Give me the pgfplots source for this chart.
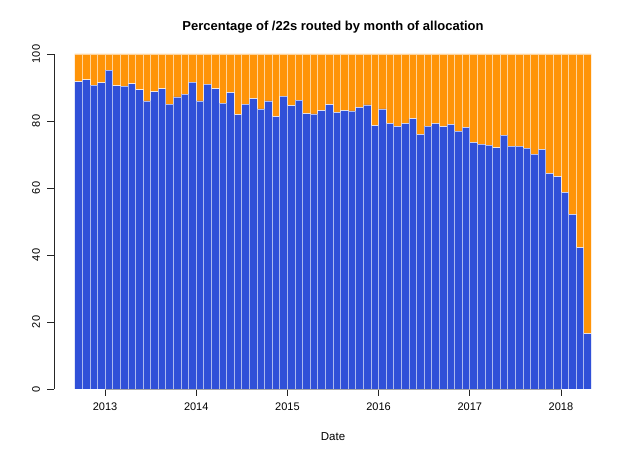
\documentclass[border=0pt]{standalone}
\usepackage{fontspec}
\setmainfont{Liberation Sans}
\usepackage{pgfplots}
\usepackage{pgfplotstable}
\pgfplotsset{compat=1.18}
\definecolor{barBlue}{RGB}{48,80,216}
\definecolor{barOrange}{RGB}{255,148,8}

% month index: 0 = Sep 2012, bar i spans [i, i+1]
\pgfplotstableread{
x    blue orange
0.5  91.7 8.3
1.5  92.3 7.7
2.5  90.7 9.3
3.5  91.4 8.6
4.5  95.2 4.8
5.5  90.5 9.5
6.5  90.4 9.6
7.5  91.1 8.9
8.5  89.3 10.7
9.5  86.0 14.0
10.5 88.7 11.3
11.5 89.6 10.4
12.5 85.0 15.0
13.5 87.2 12.8
14.5 88.0 12.0
15.5 91.6 8.4
16.5 86.0 14.0
17.5 91.0 9.0
18.5 89.6 10.4
19.5 85.3 14.7
20.5 88.5 11.5
21.5 81.9 18.1
22.5 85.0 15.0
23.5 86.7 13.3
24.5 83.6 16.4
25.5 86.0 14.0
26.5 81.3 18.7
27.5 87.4 12.6
28.5 84.6 15.4
29.5 86.2 13.8
30.5 82.2 17.8
31.5 82.1 17.9
32.5 83.1 16.9
33.5 84.9 15.1
34.5 82.6 17.4
35.5 83.1 16.9
36.5 83.0 17.0
37.5 84.1 15.9
38.5 84.8 15.2
39.5 78.6 21.4
40.5 83.6 16.4
41.5 79.3 20.7
42.5 78.4 21.6
43.5 79.3 20.7
44.5 80.7 19.3
45.5 76.0 24.0
46.5 78.5 21.5
47.5 79.3 20.7
48.5 78.3 21.7
49.5 79.0 21.0
50.5 77.0 23.0
51.5 78.1 21.9
52.5 73.6 26.4
53.5 73.1 26.9
54.5 72.8 27.2
55.5 72.0 28.0
56.5 75.8 24.2
57.5 72.5 27.5
58.5 72.5 27.5
59.5 71.9 28.1
60.5 70.1 29.9
61.5 71.5 28.5
62.5 64.4 35.6
63.5 63.4 36.6
64.5 58.7 41.3
65.5 52.1 47.9
66.5 42.2 57.8
67.5 16.5 83.5
}\routed

\begin{document}
\begin{tikzpicture}
\useasboundingbox (-54pt,-68pt) rectangle (586pt,389pt);
\begin{axis}[
  at={(0,0)}, anchor=south west,
  scale only axis, width=558pt, height=335pt,
  xmin=-2.72, xmax=70.72, ymin=0, ymax=100,
  clip=false,
  axis line style={draw=none},
  ybar stacked, bar width=1,
  xtick={4,16,28,40,52,64},
  xticklabels={2013,2014,2015,2016,2017,2018},
  ytick={0,20,40,60,80,100},
  xtick pos=lower, ytick pos=lower,
  tick align=outside, major tick length=6.6pt,
  every tick/.style={black!85, line width=0.7pt},
  tick label style={font=\fontsize{11}{13}\selectfont},
  /pgf/number format/assume math mode=true,
  xticklabel style={yshift=-4pt},
  yticklabel style={rotate=90, anchor=south, yshift=4pt},
  every axis plot/.append style={draw=white, draw opacity=0.6, line width=0.7pt},
]
\addplot[fill=barBlue] table[x=x, y=blue] {\routed};
\addplot[fill=barOrange] table[x=x, y=orange] {\routed};
\draw[black!85, line width=0.7pt] (axis cs:4,0) -- (axis cs:64,0);
\draw[black!85, line width=0.7pt] (axis cs:-2.72,0) -- (axis cs:-2.72,100);
\node[font=\bfseries\fontsize{13}{15}\selectfont] at (axis description cs:0.5,1.0806) {Percentage of /22s routed by month of allocation};
\node[font=\fontsize{11.5}{13}\selectfont] at (axis description cs:0.5,-0.143) {Date};
\end{axis}
\end{tikzpicture}
\end{document}
